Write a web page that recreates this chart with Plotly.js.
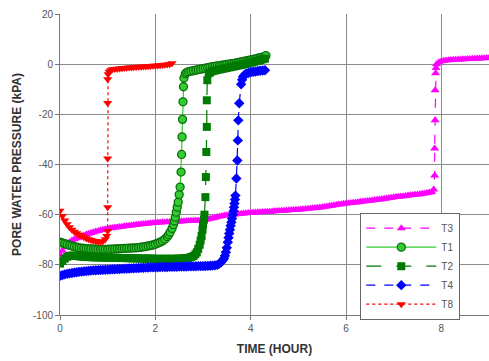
<!DOCTYPE html>
<html>
<head>
<meta charset="utf-8">
<script src="https://cdn.plot.ly/plotly-3.0.1.min.js"></script>
<style>
html,body{margin:0;padding:0;background:#fff;}
#chart{width:489px;height:361px;}
</style>
</head>
<body>
<div id="chart"></div>
<script>
// ---- data (time in hours, pressure in kPa) ----
const t3_x = [
 0.00,0.05,0.10,0.15,0.20,0.25,0.30,0.35,0.40,0.45,
 0.50,0.55,0.60,0.65,0.70,0.75,0.80,0.85,0.90,0.95,
 1.00,1.05,1.10,1.15,1.20,1.25,1.30,1.35,1.40,1.45,
 1.50,1.55,1.60,1.65,1.70,1.75,1.80,1.85,1.90,1.95,
 2.00,2.05,2.10,2.15,2.20,2.25,2.30,2.35,2.40,2.45,
 2.50,2.55,2.60,2.65,2.70,2.75,2.80,2.85,2.90,2.95,
 3.00,3.05,3.10,3.15,3.20,3.25,3.30,3.35,3.40,3.45,
 3.50,3.55,3.60,3.65,3.70,3.75,3.80,3.85,3.90,3.95,
 4.00,4.05,4.10,4.15,4.20,4.25,4.30,4.35,4.40,4.45,
 4.50,4.55,4.60,4.65,4.70,4.75,4.80,4.85,4.90,4.95,
 5.00,5.05,5.10,5.15,5.20,5.25,5.30,5.35,5.40,5.45,
 5.50,5.55,5.60,5.65,5.70,5.75,5.80,5.85,5.90,5.95,
 6.00,6.05,6.10,6.15,6.20,6.25,6.30,6.35,6.40,6.45,
 6.50,6.55,6.60,6.65,6.70,6.75,6.80,6.85,6.90,6.95,
 7.00,7.05,7.10,7.15,7.20,7.25,7.30,7.35,7.40,7.45,
 7.50,7.55,7.60,7.65,7.70,7.75,7.80,
 7.84,7.86,7.86,7.87,7.87,7.88,7.89,
 7.90,7.95,8.00,8.05,8.10,8.15,8.20,8.25,8.30,8.35,8.40,8.45,
 8.50,8.55,8.60,8.65,8.70,8.75,8.80,8.85,8.90,8.95,9.00];
const t3_y = [
 -76.0,-74.4,-73.0,-71.9,-71.0,-70.3,-69.8,-69.4,-69.0,-68.6,
 -68.3,-67.9,-67.6,-67.3,-67.0,-66.7,-66.5,-66.2,-66.0,-65.8,
 -65.6,-65.4,-65.3,-65.1,-65.0,-64.9,-64.8,-64.6,-64.5,-64.4,
 -64.3,-64.1,-64.0,-63.9,-63.8,-63.7,-63.6,-63.5,-63.4,-63.3,
 -63.2,-63.15,-63.1,-63.05,-63.0,-62.95,-62.9,-62.85,-62.8,-62.75,
 -62.7,-62.65,-62.6,-62.55,-62.5,-62.45,-62.4,-62.35,-62.3,-62.2,
 -62.1,-62.0,-61.8,-61.6,-61.4,-61.2,-60.9,-60.7,-60.5,-60.3,
 -60.2,-60.1,-60.0,-59.9,-59.8,-59.7,-59.6,-59.5,-59.4,-59.3,
 -59.2,-59.15,-59.1,-59.05,-59.0,-58.95,-58.9,-58.85,-58.8,-58.7,
 -58.6,-58.55,-58.5,-58.45,-58.4,-58.3,-58.2,-58.15,-58.1,-58.05,
 -58.0,-57.9,-57.8,-57.7,-57.6,-57.5,-57.4,-57.3,-57.2,-57.1,
 -57.0,-56.85,-56.7,-56.55,-56.4,-56.25,-56.1,-55.95,-55.8,-55.65,
 -55.5,-55.4,-55.3,-55.2,-55.1,-55.0,-54.9,-54.8,-54.7,-54.6,
 -54.5,-54.35,-54.2,-54.1,-54.0,-53.85,-53.7,-53.55,-53.4,-53.25,
 -53.1,-53.0,-52.9,-52.8,-52.7,-52.55,-52.4,-52.3,-52.2,-52.1,
 -52.0,-51.85,-51.7,-51.55,-51.4,-51.2,-51.0,
 -50.0,-44.4,-33.6,-22.4,-10.4,-3.6,-1.5,
 0.0,0.8,1.2,1.35,1.5,1.6,1.7,1.75,1.8,1.85,1.9,1.95,
 2.0,2.05,2.1,2.15,2.2,2.25,2.3,2.35,2.4,2.45,2.5];

const t1_x = [
 0.00,0.05,0.10,0.15,0.20,0.25,0.30,0.35,0.40,0.45,
 0.50,0.55,0.60,0.65,0.70,0.75,0.80,0.85,0.90,0.95,
 1.00,1.05,1.10,1.15,1.20,1.25,1.30,1.35,1.40,1.45,
 1.50,1.55,1.60,1.65,1.70,1.75,1.80,1.85,1.90,1.95,
 2.00,2.05,2.10,2.15,2.20,2.25,2.28,2.31,2.35,2.38,2.40,2.42,2.44,2.46,2.48,2.50,
 2.52,2.54,2.55,2.56,2.57,2.58,2.59,2.60,2.63,2.66,
 2.70,2.75,2.80,2.85,2.90,2.95,3.00,3.05,3.10,3.15,3.20,3.25,3.30,3.35,3.40,3.45,
 3.50,3.55,3.60,3.65,3.70,3.75,3.80,3.85,3.90,3.95,4.00,4.05,4.10,4.15,4.20,4.25,4.30,4.32];
const t1_y = [
 -71.0,-71.3,-71.6,-71.9,-72.2,-72.5,-72.8,-73.0,-73.2,-73.3,
 -73.4,-73.5,-73.6,-73.65,-73.7,-73.75,-73.8,-73.8,-73.8,-73.8,
 -73.8,-73.75,-73.7,-73.65,-73.6,-73.55,-73.5,-73.45,-73.4,-73.35,
 -73.3,-73.25,-73.2,-73.1,-73.0,-72.85,-72.7,-72.5,-72.3,-72.1,
 -71.8,-71.4,-71.0,-70.5,-69.8,-68.8,-68.0,-67.0,-65.5,-64.0,-62.5,-61.0,-59.0,-57.0,-55.0,-52.0,
 -49.0,-43.0,-36.0,-29.0,-22.0,-15.0,-9.0,-5.5,-3.8,-3.3,
 -3.0,-2.8,-2.6,-2.4,-2.2,-2.0,-1.8,-1.6,-1.4,-1.2,-1.0,-0.85,-0.7,-0.55,-0.4,-0.25,
 -0.1,0.05,0.2,0.35,0.5,0.7,0.9,1.1,1.3,1.5,1.7,1.9,2.1,2.35,2.6,2.8,3.0,3.4];

const t2_x = [
 0.00,0.05,0.10,0.15,0.20,0.25,0.30,0.35,0.40,0.45,
 0.50,0.55,0.60,0.65,0.70,0.75,0.80,0.85,0.90,0.95,
 1.00,1.05,1.10,1.15,1.20,1.25,1.30,1.35,1.40,1.45,
 1.50,1.55,1.60,1.65,1.70,1.75,1.80,1.85,1.90,1.95,
 2.00,2.05,2.10,2.15,2.20,2.25,2.30,2.35,2.40,2.45,
 2.50,2.55,2.60,2.65,2.70,2.75,2.80,
 2.84,2.87,2.90,2.93,2.95,2.97,2.99,3.00,3.02,3.03,
 3.05,3.06,3.07,3.08,3.08,3.09,3.12,3.15,
 3.20,3.25,3.30,3.35,3.40,3.45,3.50,3.55,3.60,3.65,3.70,3.75,
 3.80,3.85,3.90,3.95,4.00,4.05,4.10,4.15,4.20,4.25,4.30];
const t2_y = [
 -79.5,-78.5,-77.5,-76.8,-76.4,-76.3,-76.4,-76.5,-76.6,-76.7,
 -76.8,-76.85,-76.9,-76.95,-77.0,-77.0,-77.0,-77.05,-77.1,-77.1,
 -77.1,-77.15,-77.2,-77.2,-77.2,-77.25,-77.3,-77.3,-77.3,-77.35,
 -77.4,-77.4,-77.4,-77.45,-77.5,-77.5,-77.5,-77.5,-77.5,-77.55,
 -77.6,-77.6,-77.6,-77.6,-77.6,-77.6,-77.6,-77.6,-77.6,-77.55,
 -77.5,-77.45,-77.4,-77.3,-77.2,-76.9,-76.5,
 -75.8,-75.0,-73.6,-72.0,-70.3,-68.5,-66.0,-64.0,-62.0,-60.0,
 -53.0,-45.0,-35.0,-25.0,-14.4,-6.4,-3.6,-3.3,
 -2.8,-2.55,-2.3,-2.1,-1.9,-1.7,-1.5,-1.3,-1.1,-0.9,-0.7,-0.5,
 -0.3,-0.1,0.1,0.35,0.6,0.85,1.1,1.35,1.6,1.9,2.2];

const t4_x = [
 0.00,0.05,0.10,0.15,0.20,0.25,0.30,0.35,0.40,0.45,
 0.50,0.55,0.60,0.65,0.70,0.75,0.80,0.85,0.90,0.95,
 1.00,1.05,1.10,1.15,1.20,1.25,1.30,1.35,1.40,1.45,
 1.50,1.55,1.60,1.65,1.70,1.75,1.80,1.85,1.90,1.95,
 2.00,2.05,2.10,2.15,2.20,2.25,2.30,2.35,2.40,2.45,
 2.50,2.55,2.60,2.65,2.70,2.75,2.80,2.85,2.90,2.95,
 3.00,3.05,3.10,3.15,3.20,3.25,3.30,
 3.34,3.38,3.41,3.44,3.46,3.48,3.50,3.52,3.535,3.55,3.565,3.58,3.595,3.61,3.625,3.64,3.65,3.66,3.67,3.68,
 3.70,3.72,3.73,3.74,3.76,3.80,3.82,3.84,3.87,3.90,3.95,4.00,4.05,4.10,4.15,4.20,4.25,4.30];
const t4_y = [
 -84.4,-84.1,-83.8,-83.6,-83.4,-83.25,-83.1,-82.95,-82.8,-82.7,
 -82.6,-82.5,-82.4,-82.3,-82.2,-82.15,-82.1,-82.05,-82.0,-81.95,
 -81.9,-81.85,-81.8,-81.75,-81.7,-81.65,-81.6,-81.55,-81.5,-81.45,
 -81.4,-81.35,-81.3,-81.25,-81.2,-81.15,-81.1,-81.05,-81.0,-81.0,
 -81.0,-80.95,-80.9,-80.9,-80.9,-80.85,-80.8,-80.8,-80.8,-80.75,
 -80.7,-80.7,-80.7,-80.65,-80.6,-80.6,-80.6,-80.55,-80.5,-80.5,
 -80.5,-80.45,-80.4,-80.35,-80.3,-80.2,-80.0,
 -79.6,-79.0,-78.3,-77.5,-76.4,-75.0,-73.2,-71.0,-69.2,-67.5,-66.0,-64.4,-63.0,-61.5,-60.0,-58.5,-57.0,-55.5,-54.0,-52.4,
 -45.6,-38.4,-30.4,-22.4,-15.6,-8.0,-6.2,-5.0,-4.3,-3.8,-3.5,-3.2,-3.05,-2.9,-2.75,-2.6,-2.5,-2.4];

const t8_x = [
 0.00,0.05,0.10,0.15,0.20,0.25,0.30,0.35,0.40,0.45,
 0.50,0.55,0.60,0.65,0.70,0.75,0.80,0.85,0.90,0.95,0.98,
 1.00,1.00,1.00,1.00,1.00,1.01,1.03,1.06,
 1.10,1.15,1.20,1.25,1.30,1.35,1.40,1.45,1.50,1.55,1.60,1.65,1.70,1.75,
 1.80,1.85,1.90,1.95,2.00,2.05,2.10,2.15,2.20,2.25,2.30,2.35];
const t8_y = [
 -58.4,-60.5,-62.3,-63.8,-65.0,-66.0,-66.8,-67.4,-68.0,-68.5,
 -69.0,-69.4,-69.8,-70.1,-70.4,-70.6,-70.8,-70.8,-70.6,-69.8,-68.5,
 -66.5,-57.0,-37.6,-15.5,-6.0,-4.0,-3.0,-2.4,
 -2.0,-1.9,-1.8,-1.7,-1.6,-1.5,-1.4,-1.35,-1.3,-1.2,-1.1,-1.05,-1.0,-0.95,
 -0.9,-0.8,-0.7,-0.65,-0.6,-0.5,-0.4,-0.3,-0.2,-0.1,0.0,0.4];

const xTicks = [0, 2, 4, 6, 8];
const yTicks = [20, 0, -20, -40, -60, -80, -100];

// ---- traces ----
function mk(name, x, y, color, dash, symbol, mline) {
  return {
    type: 'scatter', mode: 'lines+markers', name: name, x: x, y: y,
    line: {color: color, width: 1.2, dash: dash},
    marker: {color: color, symbol: symbol, size: 8,
             line: mline ? {color: mline, width: 1.3} : {width: 0}}
  };
}
const data = [
  mk('T3', t3_x, t3_y, '#ff00ff', 'dash', 'triangle-up'),
  mk('T1', t1_x, t1_y, '#33cc33', 'solid', 'circle', '#0a6e0a'),
  mk('T2', t2_x, t2_y, '#007a00', 'longdash', 'square'),
  mk('T4', t4_x, t4_y, '#0000ff', 'dash', 'diamond'),
  mk('T8', t8_x, t8_y, '#ff0000', 'dot', 'triangle-down')
];

const layout = {
  width: 489, height: 361,
  margin: {l: 60, r: 0, t: 14, b: 46},
  paper_bgcolor: '#ffffff', plot_bgcolor: '#ffffff',
  font: {family: 'Liberation Sans, Arial, sans-serif', size: 10, color: '#555'},
  showlegend: true,
  legend: {
    x: 0.70, y: 0.34, xanchor: 'left', yanchor: 'top',
    bgcolor: '#ffffff', bordercolor: '#666', borderwidth: 1,
    font: {size: 10, color: '#555'}, itemwidth: 70
  },
  xaxis: {
    range: [0, 9], tickvals: xTicks, ticktext: xTicks.map(String),
    showgrid: true, gridcolor: '#8c8c8c', gridwidth: 1, zeroline: false,
    showline: true, linecolor: '#777', linewidth: 1,
    ticks: 'outside', ticklen: 4, tickcolor: '#777',
    tickfont: {size: 10, color: '#555'},
    title: {text: '<b>TIME (HOUR)</b>', font: {size: 12, color: '#333'}, standoff: 11}
  },
  yaxis: {
    range: [-100, 20], tickvals: yTicks, ticktext: yTicks.map(String),
    showgrid: true, gridcolor: '#8c8c8c', gridwidth: 1, zeroline: false,
    showline: true, linecolor: '#777', linewidth: 1,
    ticks: 'outside', ticklen: 4, tickcolor: '#777',
    tickfont: {size: 10, color: '#555'},
    title: {text: '<b>PORE WATER PRESSURE (kPA)</b>', font: {size: 12, color: '#333'}, standoff: 8}
  }
};

Plotly.newPlot('chart', data, layout, {displayModeBar: false, staticPlot: true});
</script>
</body>
</html>
